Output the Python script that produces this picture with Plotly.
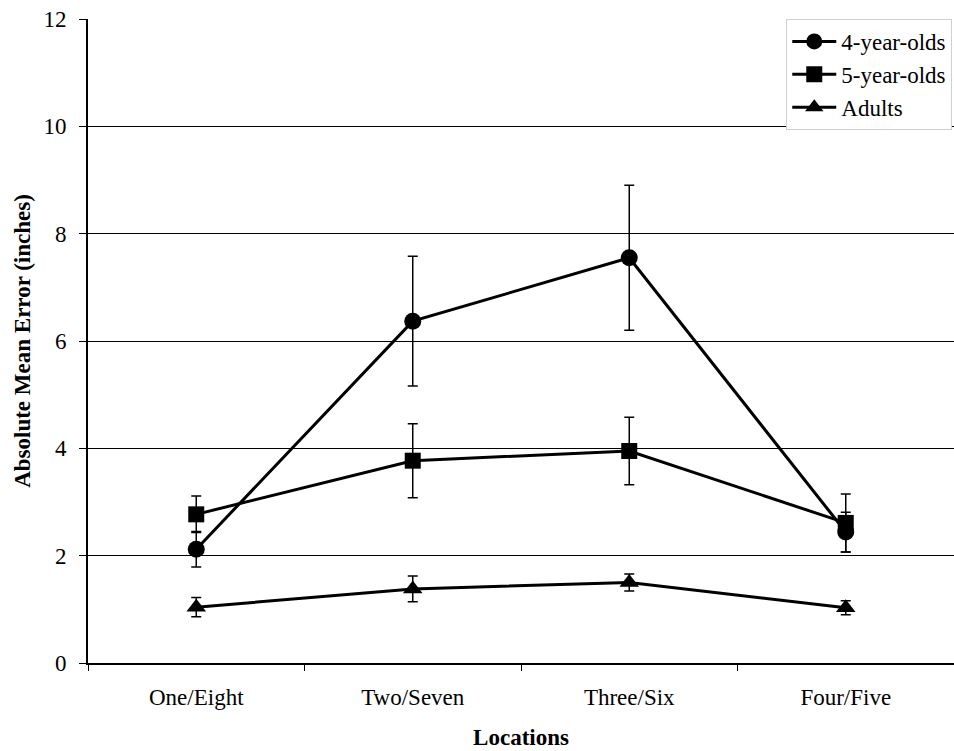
import plotly.graph_objects as go

locations = ["One/Eight", "Two/Seven", "Three/Six", "Four/Five"]

four_year_olds = [2.12, 6.37, 7.55, 2.44]
four_year_err = [0.33, 1.21, 1.35, 0.37]

five_year_olds = [2.77, 3.77, 3.95, 2.61]
five_year_err = [0.34, 0.69, 0.63, 0.54]

adults = [1.04, 1.38, 1.50, 1.03]
adults_err = [0.18, 0.24, 0.16, 0.13]

y_ticks = [0, 2, 4, 6, 8, 10, 12]

FONT = "Liberation Serif"

series = [
    ("4-year-olds", four_year_olds, four_year_err, "circle", 17),
    ("5-year-olds", five_year_olds, five_year_err, "square", 16),
    ("Adults", adults, adults_err, "triangle-up", 17),
]

fig = go.Figure()
for name, vals, errs, symbol, size in series:
    fig.add_trace(go.Scatter(
        x=locations, y=vals, name=name,
        mode="lines+markers",
        line=dict(color="black", width=3),
        marker=dict(symbol=symbol, size=size, color="black"),
        error_y=dict(type="data", array=errs, visible=True,
                     color="black", thickness=1.5, width=5),
    ))

fig.update_layout(
    width=954, height=751,
    margin=dict(l=88, r=0, t=19, b=88),
    paper_bgcolor="white", plot_bgcolor="white",
    font=dict(family=FONT, size=23, color="black"),
    showlegend=True,
    legend=dict(
        x=0.998, y=1.0, xanchor="right", yanchor="top",
        bgcolor="white", bordercolor="#d0d0d0", borderwidth=1,
        font=dict(family=FONT, size=23, color="black"),
        tracegroupgap=0, itemwidth=44,
    ),
    xaxis=dict(
        type="category",
        range=[-0.5, 3.5],
        showline=True, linecolor="black", linewidth=2,
        ticks="outside", tickson="boundaries", ticklen=6,
        tickcolor="black", tickwidth=1,
        showgrid=False, zeroline=False,
        ticklabelstandoff=12,
        tickfont=dict(family=FONT, size=23, color="black"),
        title=dict(text="<b>Locations</b>", standoff=20,
                   font=dict(family=FONT, size=23, color="black")),
    ),
    yaxis=dict(
        range=[0, 12],
        tickvals=y_ticks,
        showline=True, linecolor="black", linewidth=2,
        ticks="outside", ticklen=7, tickcolor="black", tickwidth=1,
        showgrid=True, gridcolor="black", gridwidth=1.2,
        zeroline=False,
        ticklabelstandoff=8,
        tickfont=dict(family=FONT, size=23, color="black"),
        title=dict(text="<b>Absolute Mean Error (inches)</b>", standoff=6,
                   font=dict(family=FONT, size=23, color="black")),
    ),
)

fig.write_html("out.html")
